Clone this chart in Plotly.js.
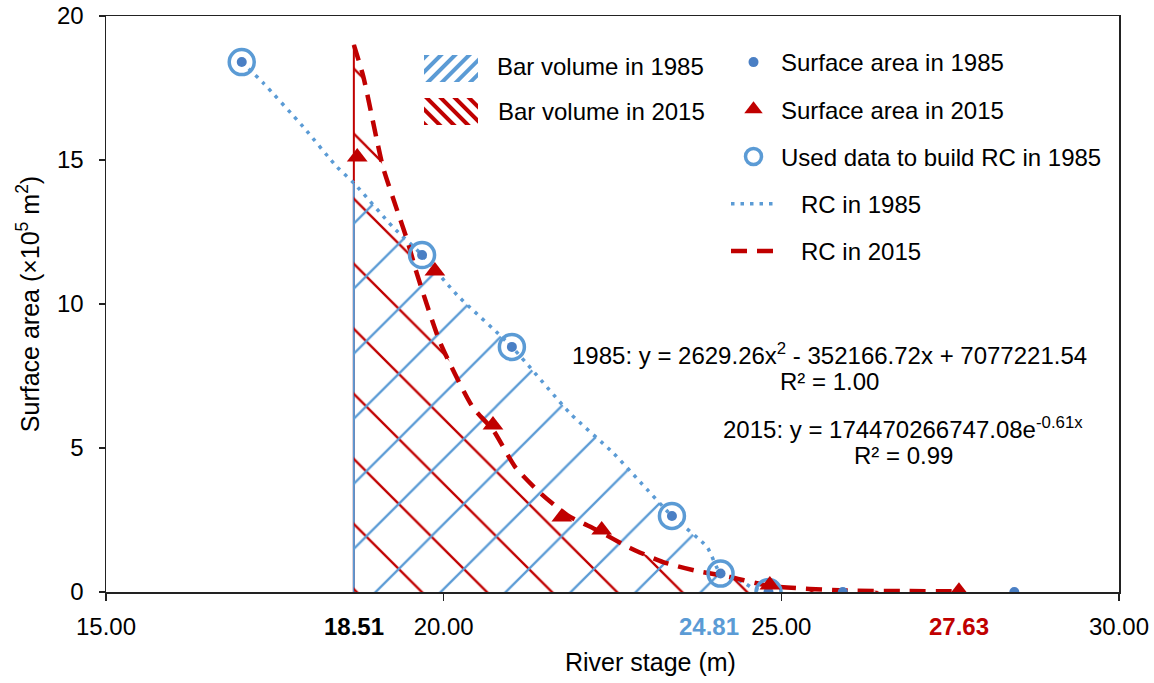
<!DOCTYPE html>
<html>
<head>
<meta charset="utf-8">
<script src="https://cdn.plot.ly/plotly-3.0.1.min.js"></script>
<style>html,body{margin:0;padding:0;background:#fff;}#chart{width:1154px;height:683px;}</style>
</head>
<body>
<div id="chart"></div>
<script>
// ---- data (surface area in 1e5 m^2, stage in m) ----
const barStart = 18.67;          // left edge of the bar-volume regions (labelled 18.51)
const bankfull1985 = 24.81;      // right end of the 1985 bar volume
const bankfull2015 = 27.63;      // right end of the 2015 bar volume

// observed surface areas, 1985 (blue dots)
const area1985X = [17.01, 19.68, 21.01, 23.38, 24.10, 24.81, 25.91, 28.45];
const area1985Y = [18.40, 11.70, 8.51, 2.64, 0.64, 0.00, 0.00, 0.00];
// data used to build the rating curve of 1985 (open circles)
const usedX = [17.01, 19.68, 21.01, 23.38, 24.10, 24.81];
const usedY = [18.40, 11.70, 8.51, 2.64, 0.64, 0.00];
// observed surface areas, 2015 (red triangles)
const area2015X = [18.72, 19.87, 20.73, 21.75, 22.34, 24.83, 27.63];
const area2015Y = [15.10, 11.15, 5.80, 2.60, 2.15, 0.24, 0.03];

// rating curve 1985 (dotted)
const rc1985X = [17.01, 17.33, 17.92, 18.42, 18.67, 19.25, 19.68, 20.20, 21.01, 21.87, 22.51, 22.91, 23.38, 23.90, 24.10, 24.43, 24.57, 24.81];
const rc1985Y = [18.40, 17.67, 16.15, 14.76, 14.20, 12.67, 11.70, 10.31, 8.51, 6.21, 4.83, 3.82, 2.64, 1.56, 0.64, 0.35, 0.14, 0.00];
// rating curve 2015 (dashed)
const rc2015X = [18.67, 18.81, 19.01, 19.10, 19.31, 19.46, 19.60, 19.95, 20.43, 20.73, 21.06, 21.43, 21.83, 22.27, 22.76, 23.25, 23.75, 24.24, 24.83, 25.97, 27.63];
const rc2015Y = [19.00, 17.90, 15.70, 14.76, 13.26, 12.22, 11.08, 8.65, 6.42, 5.63, 4.34, 3.44, 2.67, 2.15, 1.53, 1.04, 0.73, 0.52, 0.21, 0.05, 0.03];

const xTickVals = [15, 20, 25, 30];
const xTickText = ['15.00', '20.00', '25.00', '30.00'];
const yTickVals = [0, 5, 10, 15, 20];

const eq1985 = '1985: y = 2629.26x<sup>2</sup> - 352166.72x + 7077221.54';
const r1985 = 'R² = 1.00';
const eq2015 = '2015: y = 174470266747.08e<sup>-0.61x</sup>';
const r2015 = 'R² = 0.99';

// ---- styling ----
const BLUE = '#5B9BD5';
const DOT = '#4A7FC4';
const RED = '#C00000';
const FONT = 'Liberation Sans, Arial, sans-serif';

// bar volume regions derived from the rating curves
const bar1985X = [], bar1985Y = [];
rc1985X.forEach((x, i) => { if (x >= barStart && x <= bankfull1985) { bar1985X.push(x); bar1985Y.push(rc1985Y[i]); } });
const bar2015X = [], bar2015Y = [];
rc2015X.forEach((x, i) => { if (x >= barStart && x <= bankfull2015) { bar2015X.push(x); bar2015Y.push(rc2015Y[i]); } });

const traces = [
  { x: bar2015X, y: bar2015Y, type: 'scatter', mode: 'lines', fill: 'tozeroy',
    line: { width: 0, color: RED }, fillcolor: RED,
    fillpattern: { shape: '\\', fgcolor: RED, bgcolor: 'rgba(0,0,0,0)', size: 46, solidity: 0.05 },
    showlegend: false, hoverinfo: 'skip' },
  { x: bar1985X, y: bar1985Y, type: 'scatter', mode: 'lines', fill: 'tozeroy',
    line: { width: 0, color: BLUE }, fillcolor: BLUE,
    fillpattern: { shape: '/', fgcolor: BLUE, bgcolor: 'rgba(0,0,0,0)', size: 46, solidity: 0.05 },
    showlegend: false, hoverinfo: 'skip' },
  { x: rc1985X, y: rc1985Y, type: 'scatter', mode: 'lines', name: '&nbsp;&nbsp;&nbsp;RC in 1985',
    line: { color: BLUE, width: 3.5, dash: '3.5px,6px', shape: 'spline', smoothing: 0.6 },
    legendrank: 4, legendgroup: 'g4' },
  { x: rc2015X, y: rc2015Y, type: 'scatter', mode: 'lines', name: '&nbsp;&nbsp;&nbsp;RC in 2015',
    line: { color: RED, width: 4.5, dash: '16px,10px', shape: 'spline', smoothing: 0.6 },
    legendrank: 5, legendgroup: 'g5' },
  { x: usedX, y: usedY, type: 'scatter', mode: 'markers', name: 'Used data to build RC in 1985',
    marker: { symbol: 'circle-open', size: 25, color: BLUE, line: { width: 3.5, color: BLUE } },
    legendrank: 3, legendgroup: 'g3' },
  { x: area1985X, y: area1985Y, type: 'scatter', mode: 'markers', name: 'Surface area in 1985',
    marker: { symbol: 'circle', size: 10, color: DOT },
    legendrank: 1, legendgroup: 'g1' },
  { x: area2015X, y: area2015Y, type: 'scatter', mode: 'markers', name: 'Surface area in 2015',
    marker: { symbol: 'triangle-up', size: 18, color: RED },
    legendrank: 2, legendgroup: 'g2' }
];

const W = 1154, H = 683, L = 106, R = 35, T = 16, B = 91;
const pw = W - L - R, ph = H - T - B;
const px = v => (v - L) / pw;          // pixel -> paper (x)
const py = v => (H - B - v) / ph;      // pixel -> paper (y)

function hatchSvg(color, angle) {
  const svg = "<svg xmlns='http://www.w3.org/2000/svg' width='54' height='27'>" +
    "<defs><pattern id='p' width='10' height='10' patternUnits='userSpaceOnUse' patternTransform='rotate(" + angle + ")'>" +
    "<rect x='0' y='0' width='4' height='10' fill='" + color + "'/></pattern></defs>" +
    "<rect width='54' height='27' fill='url(#p)'/></svg>";
  return 'data:image/svg+xml;charset=utf-8,' + encodeURIComponent(svg);
}

const layout = {
  width: W, height: H,
  margin: { l: L, r: R, t: T, b: B, pad: 0 },
  paper_bgcolor: '#fff', plot_bgcolor: '#fff',
  font: { family: FONT, size: 24, color: '#000' },
  showlegend: true,
  legend: { x: px(726), y: py(40), xanchor: 'left', yanchor: 'top', bgcolor: 'rgba(0,0,0,0)',
            font: { family: FONT, size: 24, color: '#000' }, tracegroupgap: 13, itemwidth: 45 },
  xaxis: { range: [15, 30], tickvals: xTickVals, ticktext: xTickText, showgrid: false, zeroline: false,
           showline: true, mirror: true, linecolor: '#222', linewidth: 1.5,
           ticks: 'outside', ticklen: 7, tickwidth: 1.5, tickcolor: '#222', ticklabelstandoff: 6,
           tickfont: { family: FONT, size: 24, color: '#000' } },
  yaxis: { range: [0, 20], tickvals: yTickVals, showgrid: false, zeroline: false,
           showline: true, mirror: true, linecolor: '#222', linewidth: 1.5,
           ticks: 'outside', ticklen: 6, tickwidth: 1.5, tickcolor: '#222', ticklabelstandoff: 10,
           tickfont: { family: FONT, size: 24, color: '#000' },
           title: { text: 'Surface area (×10<sup>5</sup> m<sup>2</sup>)', font: { family: FONT, size: 25, color: '#000' }, standoff: 10 } },
  shapes: [
    { type: 'line', xref: 'x', yref: 'y', x0: barStart, x1: barStart, y0: 0, y1: bar2015Y[0],
      line: { color: RED, width: 2 }, layer: 'below' },
    { type: 'line', xref: 'x', yref: 'y', x0: barStart, x1: barStart, y0: 0, y1: bar1985Y[0],
      line: { color: BLUE, width: 2 }, layer: 'below' }
  ],
  images: [
    { source: hatchSvg(BLUE, 45), xref: 'paper', yref: 'paper', x: px(424), y: py(55),
      sizex: 54 / pw, sizey: 27 / ph, xanchor: 'left', yanchor: 'top', sizing: 'stretch', layer: 'above' },
    { source: hatchSvg(RED, -45), xref: 'paper', yref: 'paper', x: px(424), y: py(98),
      sizex: 54 / pw, sizey: 27 / ph, xanchor: 'left', yanchor: 'top', sizing: 'stretch', layer: 'above' }
  ],
  annotations: [
    { text: 'River stage (m)', xref: 'paper', yref: 'paper', x: px(650), y: py(662), xanchor: 'center', yanchor: 'middle', showarrow: false, font: { size: 25 } },
    { text: 'Bar volume in 1985', xref: 'paper', yref: 'paper', x: px(495), y: py(67), xanchor: 'left', yanchor: 'middle', showarrow: false, font: { size: 24 } },
    { text: 'Bar volume in 2015', xref: 'paper', yref: 'paper', x: px(496), y: py(111), xanchor: 'left', yanchor: 'middle', showarrow: false, font: { size: 24 } },
    { text: eq1985, xref: 'paper', yref: 'paper', x: px(829), y: py(354), xanchor: 'center', yanchor: 'middle', showarrow: false, font: { size: 24 } },
    { text: r1985, xref: 'paper', yref: 'paper', x: px(829), y: py(381), xanchor: 'center', yanchor: 'middle', showarrow: false, font: { size: 24 } },
    { text: eq2015, xref: 'paper', yref: 'paper', x: px(903), y: py(428), xanchor: 'center', yanchor: 'middle', showarrow: false, font: { size: 24 } },
    { text: r2015, xref: 'paper', yref: 'paper', x: px(903), y: py(455), xanchor: 'center', yanchor: 'middle', showarrow: false, font: { size: 24 } },
    { text: '<b>18.51</b>', xref: 'x', yref: 'paper', x: barStart, y: 0, yshift: -34, xanchor: 'center', yanchor: 'middle', showarrow: false, font: { size: 24, color: '#000' } },
    { text: '<b>' + bankfull1985.toFixed(2) + '</b>', xref: 'x', yref: 'paper', x: bankfull1985, y: 0, xshift: -28, yshift: -34, xanchor: 'right', yanchor: 'middle', showarrow: false, font: { size: 24, color: BLUE } },
    { text: '<b>' + bankfull2015.toFixed(2) + '</b>', xref: 'x', yref: 'paper', x: bankfull2015, y: 0, yshift: -34, xanchor: 'center', yanchor: 'middle', showarrow: false, font: { size: 24, color: RED } }
  ]
};

Plotly.newPlot('chart', traces, layout, { displayModeBar: false, staticPlot: true });
</script>
</body>
</html>
